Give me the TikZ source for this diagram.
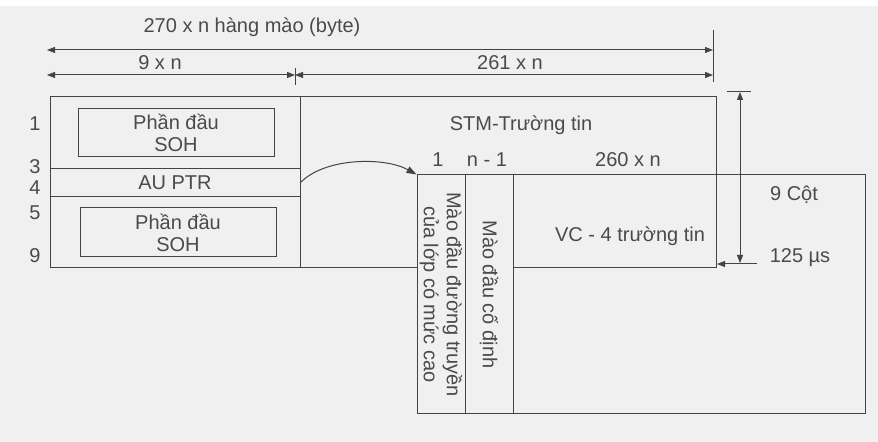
\documentclass[tikz,border=0pt]{standalone}
\usepackage{fontspec}
\setmainfont{Liberation Sans}
\usetikzlibrary{arrows.meta,positioning}
\definecolor{ink}{HTML}{444444}
\definecolor{txt}{HTML}{4A4A4A}
\definecolor{paper}{HTML}{F0F0F0}

\begin{document}
\begin{tikzpicture}[x=0.5pt, y=-0.5pt,
  every node/.style={text=txt, font=\fontsize{10}{11}\selectfont},
  frame/.style={draw=ink, line width=0.5pt, inner sep=0pt},
  tick/.style={draw=ink, line width=0.5pt},
  dimline/.style={tick, {Triangle[length=4pt,width=3pt]}-{Triangle[length=4pt,width=3pt]}}]
	\fill[paper] (0,6) rectangle (878,442);
	\useasboundingbox (0,0) rectangle (878,442);
	% widths on top
	\coordinate (wl) at (47,50); \coordinate (wr) at (713,50);
	\coordinate (al) at (47,75); \coordinate (am) at (295,75); \coordinate (ar) at (713,75);
	\draw[dimline] (wl) -- (wr);
	\draw[dimline] (al) -- (am);
	\draw[dimline] (am) -- (ar);
	\draw[tick] (713,30) -- (713,82);
	\draw[tick] (295,68) -- (295,85);
	\node (wtxt) at (252,27) {270 x n hàng mào (byte)};
	\node (soht) at (160,63) {9 x n};
	\node (payt) at (510,63) {261 x n};
	% STM frame
	\node[frame, minimum width=333pt, minimum height=85.5pt] (stm) at (383,182.5) {};
	\draw[tick] (300,97) -- (300,268);
	\draw[tick] (50,169) -- (300,169);
	\draw[tick] (50,197) -- (300,197);
	\node[frame, minimum width=98pt, minimum height=24pt, align=center] (soh1) at (176,133) {Phần đầu\\SOH};
	\node[frame, minimum width=98pt, minimum height=24.5pt, align=center] (soh2) at (178,232.5) {Phần đầu\\SOH};
	\node (auptr) at (175,183) {AU PTR};
	\node (stmt) at (521,125) {STM-Trường tin};
	\foreach \r/\y in {1/124,3/167,4/188,5/213,9/256} {\node (row\r) at (35,\y) {\r};}
	% VC-4
	\node[frame, minimum width=224pt, minimum height=119.5pt] (vc) at (641,294.5) {};
	\node[frame, fill=paper, rotate=-90, minimum width=119.5pt, minimum height=24pt, align=center, font=\fontsize{10}{11.5}\selectfont] (poh) at (441,294.5) {Mào đầu đường truyền\\của lớp có mức cao};
	\node[frame, fill=paper, rotate=-90, minimum width=119.5pt, minimum height=24pt] (fix) at (489,294.5) {Mào đầu cố định};
	\node (c1) at (438,160) {1};
	\node (cn) at (487,160) {n - 1};
	\node (cw) at (628,160) {260 x n};
	\node (vct) at (630,236) {VC - 4 trường tin};
	\coordinate (ptr) at (300,183);
	\draw[tick, -{Triangle[length=5pt,width=3.5pt]}] (ptr) .. controls (325,157) and (385,157) .. (vc.north west);
	% rows / time
	\coordinate (tt) at (740,92); \coordinate (tb) at (740,263);
	\draw[dimline] (tt) -- (tb);
	\draw[tick] (727,92) -- (751,92);
	\draw[tick, -{Triangle[length=4pt,width=3pt]}] (757,264) -- (717,264);
	\node (cot) at (794,195) {9 Cột};
	\node (time) at (800,258) {125 µs};
\end{tikzpicture}
\end{document}
